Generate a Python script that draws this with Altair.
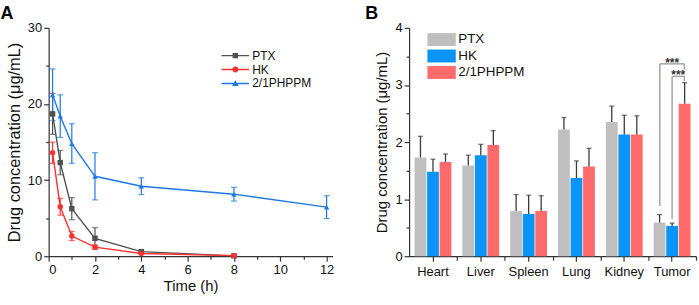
import altair as alt
import pandas as pd

FONT = "Liberation Sans"

# ---------------- Panel A data ----------------
series_a = ["PTX", "HK", "2/1PHPPM"]
colors_a = ["#505050", "#ff3030", "#1f78e2"]
times_ptx = [0.17, 0.5, 1, 2, 4, 8]
ptx_mean = [18.7, 12.3, 6.25, 2.35, 0.6, 0.05]
ptx_err = [2.7, 1.6, 1.45, 1.4, 0.15, 0.05]
times_hk = [0.17, 0.5, 1, 2, 4, 8]
hk_mean = [13.6, 6.5, 2.65, 1.2, 0.35, 0.08]
hk_err = [1.4, 1.1, 0.6, 0.3, 0.1, 0.05]
times_php = [0.17, 0.5, 1, 2, 4, 8, 12]
php_mean = [21.2, 18.4, 14.8, 10.5, 9.2, 8.15, 6.45]
php_err = [3.4, 2.8, 2.6, 3.1, 1.1, 0.9, 1.5]
x_ticks_a = list(range(0, 13))
y_ticks_a = [0, 5, 10, 15, 20, 25, 30]

rows = []
for s, ts, ms, es in [("PTX", times_ptx, ptx_mean, ptx_err),
                      ("HK", times_hk, hk_mean, hk_err),
                      ("2/1PHPPM", times_php, php_mean, php_err)]:
    for t, m, e in zip(ts, ms, es):
        rows.append({"series": s, "t": t, "mean": m, "lo": max(m - e, 0), "hi": m + e})
df_a = pd.DataFrame(rows)

# legend symbols: line segment with the marker in the middle
leg_paths_a = [
    "M-2.3,-0.12H2.3V0.12H-2.3Z M-0.45,-0.45H0.45V0.45H-0.45Z",
    "M-2.3,-0.12H2.3V0.12H-2.3Z M-0.5,0A0.5,0.5 0 1,1 0.5,0A0.5,0.5 0 1,1 -0.5,0Z",
    "M-2.3,-0.12H2.3V0.12H-2.3Z M0,-0.55L0.55,0.42H-0.55Z",
]

x_axis_a = alt.Axis(values=x_ticks_a, title="Time (h)",
                    labelExpr="datum.value % 2 === 0 ? datum.label : ''",
                    tickSize={"condition": {"test": "datum.value % 2 !== 0", "value": 3}, "value": 5},
                    labelFontSize=13, titleFontSize=15, titleFontWeight="normal",
                    labelPadding=2, titlePadding=3)
y_axis_a = alt.Axis(values=y_ticks_a, title="Drug concentration (\u03bcg/mL)",
                    labelExpr="datum.value % 10 === 0 ? datum.label : ''",
                    tickSize={"condition": {"test": "datum.value % 10 !== 0", "value": 3}, "value": 5},
                    labelFontSize=13, titleFontSize=16.5, titleFontWeight="normal",
                    labelPadding=2, titlePadding=5)
xa = alt.X("t:Q", scale=alt.Scale(domain=[0, 12.26], nice=False, zero=False), axis=x_axis_a)
ya_scale = alt.Scale(domain=[0, 30], nice=False)
color_a = alt.Color("series:N", scale=alt.Scale(domain=series_a, range=colors_a), legend=None)

base_a = alt.Chart(df_a)
err_a = base_a.mark_rule(strokeWidth=1.2).encode(
    x=xa, y=alt.Y("lo:Q", scale=ya_scale, axis=y_axis_a), y2="hi:Q", color=color_a)
cap_hi = base_a.mark_tick(orient="horizontal", size=6, thickness=1.2).encode(
    x=xa, y=alt.Y("hi:Q", scale=ya_scale, axis=y_axis_a), color=color_a)
cap_lo = base_a.mark_tick(orient="horizontal", size=6, thickness=1.2).encode(
    x=xa, y=alt.Y("lo:Q", scale=ya_scale, axis=y_axis_a), color=color_a)
line_a = base_a.mark_line(strokeWidth=1.4).encode(
    x=xa, y=alt.Y("mean:Q", scale=ya_scale, axis=y_axis_a), color=color_a)
pts_a = base_a.mark_point(filled=True, size=30, opacity=1).encode(
    x=xa, y=alt.Y("mean:Q", scale=ya_scale, axis=y_axis_a), color=color_a,
    shape=alt.Shape("series:N", scale=alt.Scale(domain=series_a, range=["square", "circle", "triangle-up"]), legend=None))

leg_a = alt.Legend(title=None, orient="none", legendX=181, legendY=21, labelFontSize=12, labelFont=FONT,
                   labelColor="#111", symbolSize=144, labelOffset=10, rowPadding=1, padding=0)
legend_layer_a = base_a.transform_filter("false").mark_point(filled=True, opacity=1).encode(
    x=xa, y=alt.Y("mean:Q", scale=ya_scale, axis=y_axis_a),
    color=alt.Color("series:N", scale=alt.Scale(domain=series_a, range=colors_a), legend=leg_a),
    shape=alt.Shape("series:N", scale=alt.Scale(domain=series_a, range=leg_paths_a), legend=leg_a))

chart_a = alt.layer(err_a, cap_hi, cap_lo, line_a, pts_a, legend_layer_a).resolve_scale(
    color="independent", shape="independent").properties(
    width=286, height=230,
    title=alt.TitleParams("A", anchor="start", frame="bounds", fontSize=18, fontWeight="bold",
                          font=FONT, dx=-6, offset=-1))

# ---------------- Panel B data ----------------
organs = ["Heart", "Liver", "Spleen", "Lung", "Kidney", "Tumor"]
groups_b = ["PTX", "HK", "2/1PHPPM"]
colors_b = ["#bfbfbf", "#0a95f6", "#ff6b6b"]
ptx_b = [1.73, 1.59, 0.79, 2.22, 2.35, 0.59]
ptx_b_err = [0.37, 0.18, 0.29, 0.21, 0.28, 0.14]
hk_b = [1.48, 1.77, 0.74, 1.37, 2.13, 0.53]
hk_b_err = [0.22, 0.19, 0.33, 0.30, 0.34, 0.05]
php_b = [1.65, 1.95, 0.79, 1.57, 2.13, 2.67]
php_b_err = [0.14, 0.25, 0.27, 0.32, 0.33, 0.37]
y_ticks_b = [0, 0.5, 1, 1.5, 2, 2.5, 3, 3.5, 4]

rows_b = []
for g, vals, errs in [("PTX", ptx_b, ptx_b_err), ("HK", hk_b, hk_b_err), ("2/1PHPPM", php_b, php_b_err)]:
    for o, v, e in zip(organs, vals, errs):
        rows_b.append({"organ": o, "group": g, "val": v, "top": v + e})
df_b = pd.DataFrame(rows_b)

PAD_IN = 0.23
x_axis_b = alt.Axis(title=None, labelAngle=0, labelFontSize=13, labelPadding=4, tickSize=5)
y_axis_b = alt.Axis(values=y_ticks_b, title="Drug concentration (\u03bcg/mL)",
                    labelExpr="datum.value % 1 === 0 ? format(datum.value, 'd') : ''",
                    tickSize={"condition": {"test": "datum.value % 1 !== 0", "value": 3}, "value": 5},
                    labelFontSize=13, titleFontSize=15, titleFontWeight="normal",
                    labelPadding=2, titlePadding=5)
xb = alt.X("organ:N", sort=organs, scale=alt.Scale(paddingInner=PAD_IN, paddingOuter=PAD_IN / 2), axis=x_axis_b)
xob = alt.XOffset("group:N", sort=groups_b, scale=alt.Scale(paddingInner=0.06))
yb_scale = alt.Scale(domain=[0, 4], nice=False)

leg_b = alt.Legend(title=None, orient="none", legendX=26, legendY=5, labelFontSize=13.5, labelFont=FONT,
                   labelColor="#111", symbolType="M-2.2,-1H2.2V1H-2.2Z", symbolSize=169,
                   labelOffset=10, rowPadding=1.6, padding=0, symbolStrokeWidth=0)
base_b = alt.Chart(df_b)
bars = base_b.mark_bar().encode(
    x=xb, xOffset=xob, y=alt.Y("val:Q", scale=yb_scale, axis=y_axis_b),
    color=alt.Color("group:N", sort=groups_b, scale=alt.Scale(domain=groups_b, range=colors_b), legend=leg_b))
err_b = base_b.mark_rule(color="#3a3a3a", strokeWidth=1.3).encode(
    x=xb, xOffset=xob, y=alt.Y("val:Q", scale=yb_scale, axis=y_axis_b), y2="top:Q")
cap_b = base_b.mark_tick(orient="horizontal", color="#3a3a3a", size=5, thickness=1.3).encode(
    x=xb, xOffset=xob, y=alt.Y("top:Q", scale=yb_scale, axis=y_axis_b))
bar_group = alt.layer(bars, err_b, cap_b)

# significance brackets (Tumor group), positioned on a category-index scale
tumor_i = organs.index("Tumor")
sub = (1 - PAD_IN) / 3
cx = {g: tumor_i + 0.5 + (k - 1) * sub for k, g in enumerate(groups_b)}
br1_y, br1_end = 3.37, 3.27
br2_y, br2_end = 3.15, 3.07
seg = pd.DataFrame([
    {"bx": cx["PTX"], "bx2": cx["PTX"], "by": 0.88, "by2": br1_y},
    {"bx": cx["PTX"], "bx2": cx["2/1PHPPM"], "by": br1_y, "by2": br1_y},
    {"bx": cx["2/1PHPPM"], "bx2": cx["2/1PHPPM"], "by": br1_end, "by2": br1_y},
    {"bx": cx["HK"], "bx2": cx["HK"], "by": 0.65, "by2": br2_y},
    {"bx": cx["HK"], "bx2": cx["2/1PHPPM"], "by": br2_y, "by2": br2_y},
    {"bx": cx["2/1PHPPM"], "bx2": cx["2/1PHPPM"], "by": br2_end, "by2": br2_y},
])
stars = pd.DataFrame([
    {"bx": (cx["PTX"] + cx["2/1PHPPM"]) / 2, "by": br1_y, "txt": "***"},
    {"bx": (cx["HK"] + cx["2/1PHPPM"]) / 2, "by": br2_y, "txt": "***"},
])
band_edges = list(range(1, len(organs) + 1))
bx_scale = alt.Scale(domain=[0, len(organs)], nice=False, zero=False)
bx_axis = alt.Axis(orient="bottom", values=band_edges, labels=False, domain=False, tickSize=4, title=None)
brackets = alt.Chart(seg).mark_rule(color="#a6a6a6", strokeWidth=1.5).encode(
    x=alt.X("bx:Q", scale=bx_scale, axis=bx_axis), x2="bx2:Q",
    y=alt.Y("by:Q", scale=yb_scale, axis=y_axis_b), y2="by2:Q")
star_txt = alt.Chart(stars).mark_text(font=FONT, fontSize=12, fontWeight="bold", color="#333",
                                      baseline="alphabetic", dy=3).encode(
    x=alt.X("bx:Q", scale=bx_scale, axis=bx_axis), y=alt.Y("by:Q", scale=yb_scale, axis=y_axis_b), text="txt:N")
ann = alt.layer(brackets, star_txt)

chart_b = alt.layer(bar_group, ann).resolve_scale(x="independent").properties(
    width=289, height=230,
    title=alt.TitleParams("B", anchor="start", frame="bounds", fontSize=18, fontWeight="bold",
                          font=FONT, dx=-10, offset=-1))

chart = alt.hconcat(chart_a, chart_b, spacing=30).resolve_scale(
    color="independent", shape="independent").resolve_legend(
    color="independent", shape="independent").properties(
    padding={"left": 0, "right": 2, "top": 4, "bottom": 0}
).configure_view(stroke=None).configure_axis(
    domainColor="#333", tickColor="#333", labelColor="#111", titleColor="#111",
    labelFont=FONT, titleFont=FONT, grid=False, domainWidth=1.2, tickWidth=1.2
).configure_title(color="#000")

chart.save("out.html", embed_options={"renderer": "svg", "actions": False})
